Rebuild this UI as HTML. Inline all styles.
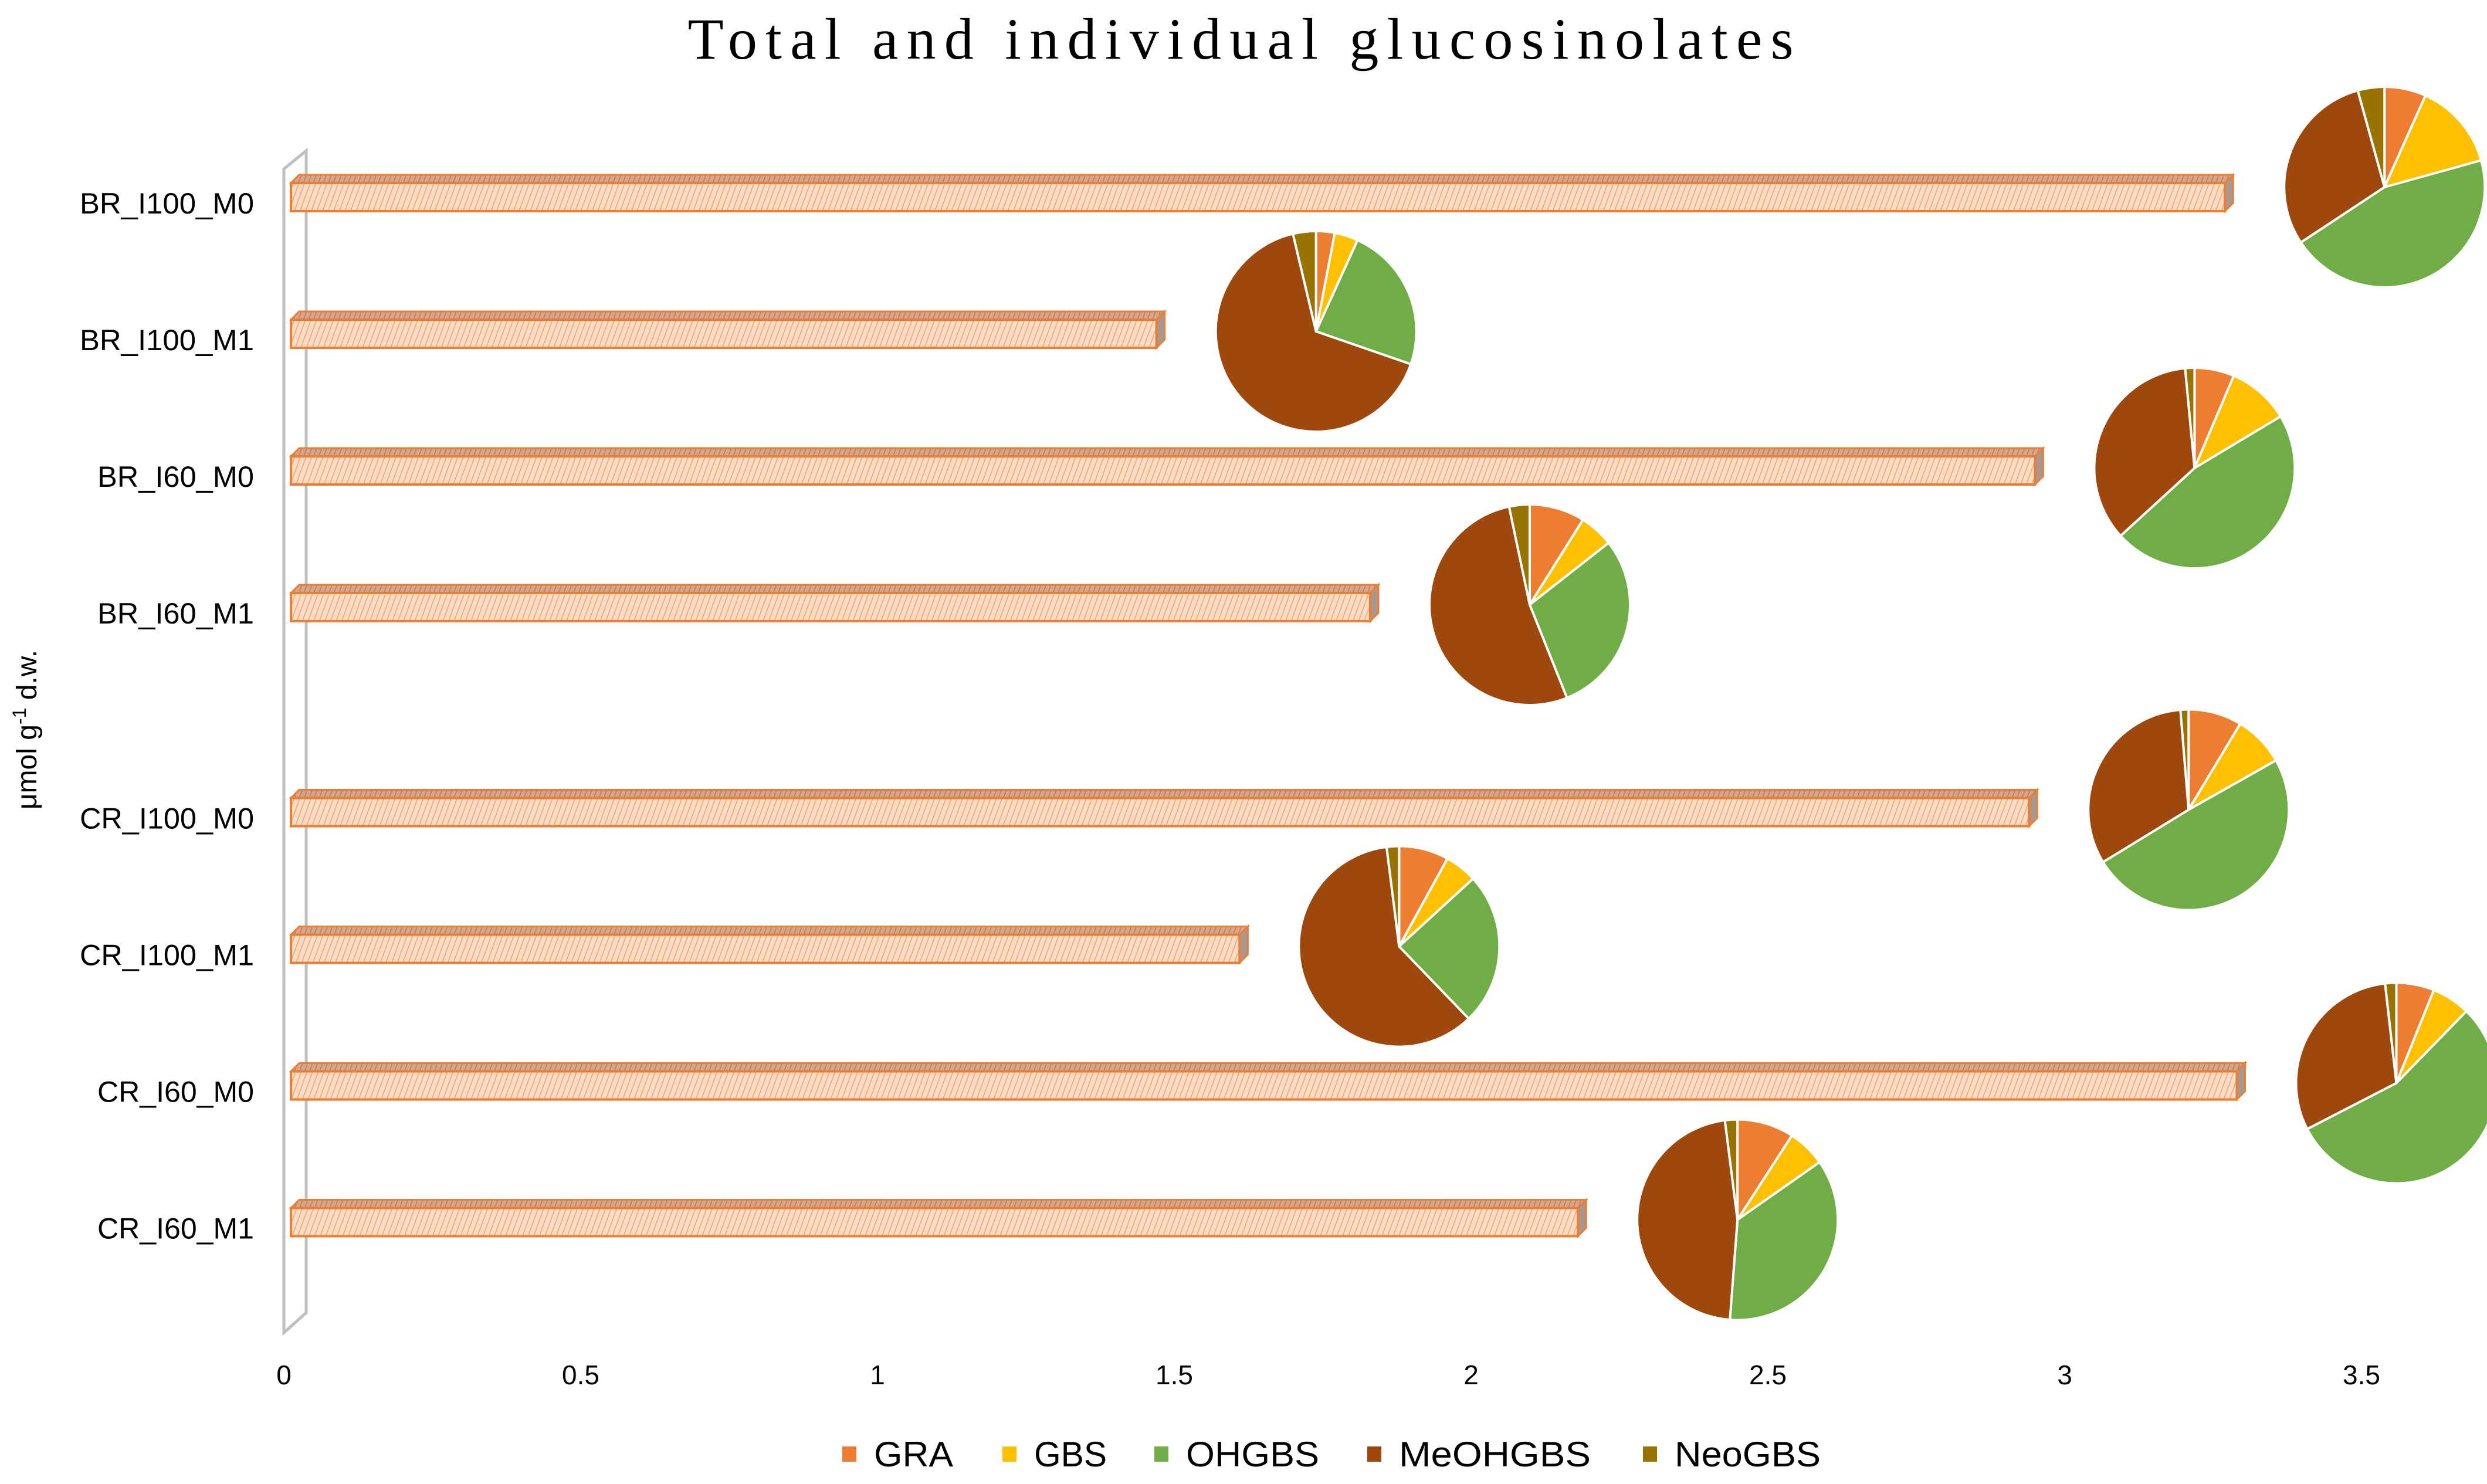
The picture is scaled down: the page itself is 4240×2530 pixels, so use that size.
<!DOCTYPE html>
<html><head><meta charset="utf-8"><style>
html,body{margin:0;padding:0;background:#fff;}
svg{display:block;}
</style></head><body>
<svg id="chart" width="4240" height="2530" viewBox="0 0 4240 2530" xmlns="http://www.w3.org/2000/svg">
<defs>
<pattern id="hatchFront" patternUnits="userSpaceOnUse" width="9" height="9" patternTransform="rotate(20)">
<rect width="9" height="9" fill="#FCDCC4"/>
<line x1="0" y1="0" x2="0" y2="9" stroke="#F0A070" stroke-width="3"/>
</pattern>
<pattern id="hatchTop" patternUnits="userSpaceOnUse" width="8" height="8" patternTransform="rotate(20)">
<rect width="8" height="8" fill="#D9A588"/>
<line x1="0" y1="0" x2="0" y2="8" stroke="#A98070" stroke-width="3"/>
</pattern>
</defs>
<text x="2115" y="100" text-anchor="middle" font-family="'Liberation Serif', serif" font-size="100" textLength="1885" lengthAdjust="spacing">Total and individual glucosinolates</text>
<text transform="translate(62,1244) rotate(-90)" text-anchor="middle" font-family="'Liberation Sans', sans-serif" font-size="48">μmol g<tspan font-size="32" dy="-18">-1</tspan><tspan dy="18"> d.w.</tspan></text>
<g id="wall">
<polygon points="484,288 522,257 522,2238 484,2272" fill="none" stroke="#BFBFBF" stroke-width="5"/>
</g>
<g id="bars"></g>
<g id="pies"></g>
<g id="ticks"></g>
<g id="legend"></g>
</svg>
<script>
const categories = ["BR_I100_M0","BR_I100_M1","BR_I60_M0","BR_I60_M1","CR_I100_M0","CR_I100_M1","CR_I60_M0","CR_I60_M1"];
const totals = [3.27, 1.47, 2.95, 1.83, 2.94, 1.61, 3.29, 2.18];
const seriesNames = ["GRA","GBS","OHGBS","MeOHGBS","NeoGBS"];
const GRA =     [0.067, 0.030, 0.064, 0.089, 0.086, 0.080, 0.061, 0.091];
const GBS =     [0.140, 0.038, 0.100, 0.055, 0.082, 0.052, 0.062, 0.061];
const OHGBS =   [0.450, 0.235, 0.468, 0.295, 0.494, 0.246, 0.552, 0.358];
const MeOHGBS = [0.300, 0.660, 0.353, 0.527, 0.324, 0.602, 0.308, 0.466];
const NeoGBS =  [0.043, 0.037, 0.015, 0.033, 0.013, 0.020, 0.018, 0.020];
const xTicks = [0, 0.5, 1, 1.5, 2, 2.5, 3, 3.5];
const xTickLabels = ["0","0.5","1","1.5","2","2.5","3","3.5"];

const colors = ["#ED7D31","#FFC000","#70AD47","#9E480E","#997300"];
const NS = "http://www.w3.org/2000/svg";
const x0 = 484, unit = 1012;
function xScale(v){ return x0 + v*unit; }
function yScale(i){ return 346 + (i < 4 ? i : i + 0.5)*233; }
function mk(tag, attrs, parent){ const e=document.createElementNS(NS,tag); for(const k in attrs) e.setAttribute(k,attrs[k]); parent.appendChild(e); return e; }

const gb = document.getElementById('bars');
const gp = document.getElementById('pies');
const series = [GRA,GBS,OHGBS,MeOHGBS,NeoGBS];
categories.forEach((c,i)=>{
  const cy = yScale(i);
  const xs = xScale(0)+12, xe = xScale(totals[i]);
  const top = cy-34, bot = cy+14, d = 14;
  const lab = mk('text',{x:433,y:cy+18,'text-anchor':'end','font-family':"'Liberation Sans', sans-serif",'font-size':50,textLength:Math.round(c.length*29.7),lengthAdjust:'spacingAndGlyphs'},gb);
  lab.textContent = c;
  
  
  const g = mk('g',{},gb);
  
  
  mk('polygon',{points:`${xs},${top} ${xs+d},${top-d} ${xe+d},${top-d} ${xe},${top}`,fill:'url(#hatchTop)',stroke:'#ED7D31','stroke-width':3},g);
  mk('polygon',{points:`${xe},${top} ${xe+d},${top-d} ${xe+d},${bot-d} ${xe},${bot}`,fill:'#A89890',stroke:'#ED7D31','stroke-width':3},g);
  mk('rect',{x:xs,y:top,width:xe-xs,height:bot-top,fill:'url(#hatchFront)',stroke:'#ED7D31','stroke-width':4},g);

  const r = 171;
  const pcx = xe + 272;
  const pcy = i === 0 ? cy - 27 : cy - 14;
  const pg = mk('g',{},gp);
  
  
  let sum = 0; series.forEach(s=>sum+=s[i]);
  let a = 0;
  series.forEach((s,k)=>{
    const a1 = a + s[i]/sum*2*Math.PI;
    const p0x = pcx + r*Math.sin(a), p0y = pcy - r*Math.cos(a);
    const p1x = pcx + r*Math.sin(a1), p1y = pcy - r*Math.cos(a1);
    const large = (a1-a) > Math.PI ? 1 : 0;
    const sl = mk('path',{d:`M${pcx},${pcy} L${p0x},${p0y} A${r},${r} 0 ${large} 1 ${p1x},${p1y} Z`,fill:colors[k],stroke:'#fff','stroke-width':4,'stroke-linejoin':'round'},pg);
    
    
    a = a1;
  });
});

const gt = document.getElementById('ticks');
xTicks.forEach((v,i)=>{
  const t = mk('text',{x:xScale(v),y:2360,'text-anchor':'middle','font-family':"'Liberation Sans', sans-serif",'font-size':46},gt);
  t.textContent = xTickLabels[i];
  
  
});

const gl = document.getElementById('legend');
const legX = [1436, 1709, 1968, 2331, 2801];
const legW = [135, 124, 227, 327, 249];
seriesNames.forEach((n,k)=>{
  const g = mk('g',{},gl);
  
  
  mk('rect',{x:legX[k],y:2466,width:24,height:26,fill:colors[k]},g);
  const t = mk('text',{x:legX[k]+54,y:2500,'font-family':"'Liberation Sans', sans-serif",'font-size':60,textLength:legW[k],lengthAdjust:'spacingAndGlyphs'},g);
  t.textContent = n;
});
</script>
</body></html>
